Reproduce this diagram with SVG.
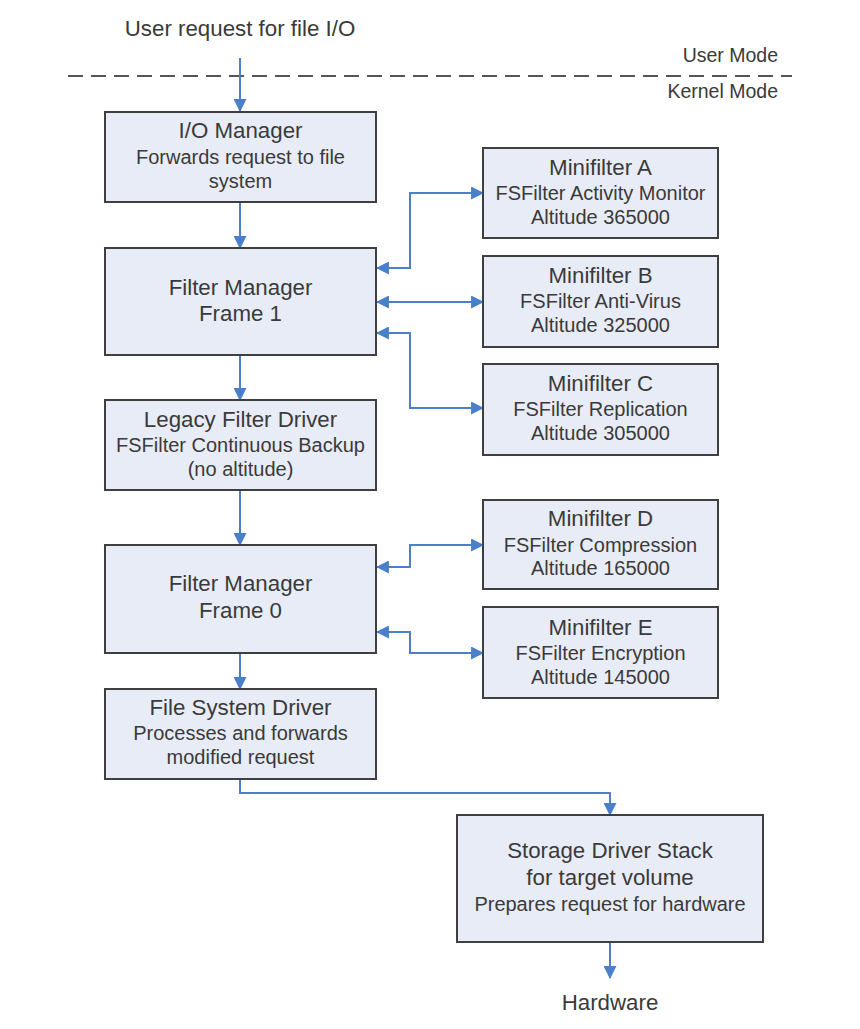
<svg xmlns="http://www.w3.org/2000/svg" width="860" height="1029" viewBox="0 0 860 1029">
<style>
.box{fill:#e8ecf6;stroke:#3f3f3f;stroke-width:2}
text{font-family:"Liberation Sans",Arial,sans-serif;fill:#3a3a3a;text-anchor:middle}
.t{font-size:22.3px}
.s{font-size:20px}
.r{text-anchor:end;font-size:19.5px}
.c{fill:none;stroke:#4a7fc9;stroke-width:2}
</style>
<defs>
<marker id="ah" viewBox="0 0 12 12" refX="11" refY="6" markerWidth="13" markerHeight="13" markerUnits="userSpaceOnUse" orient="auto-start-reverse">
<path d="M0,0 L12,6 L0,12 z" fill="#4a7fc9"/>
</marker>
</defs>
<rect width="860" height="1029" fill="#ffffff"/>
<text x="240" y="36" class="t">User request for file I/O</text>
<line x1="68" y1="76" x2="792" y2="76" stroke="#555" stroke-width="2" stroke-dasharray="15,8"/>
<text x="778" y="62" class="r">User Mode</text>
<text x="778" y="98" class="r">Kernel Mode</text>

<g id="connectors">
<path class="c" d="M240,58 V111" marker-end="url(#ah)"/>
<path class="c" d="M240,202 V248" marker-end="url(#ah)"/>
<path class="c" d="M240,355 V400" marker-end="url(#ah)"/>
<path class="c" d="M240,490 V545" marker-end="url(#ah)"/>
<path class="c" d="M240,653 V689" marker-end="url(#ah)"/>
<path class="c" d="M240,779 V793 H610 V815" marker-end="url(#ah)"/>
<path class="c" d="M610,942 V978" marker-end="url(#ah)"/>
<path class="c" d="M377,268 H410 V193 H483" marker-start="url(#ah)" marker-end="url(#ah)"/>
<path class="c" d="M377,302 H483" marker-start="url(#ah)" marker-end="url(#ah)"/>
<path class="c" d="M377,333 H410 V408 H483" marker-start="url(#ah)" marker-end="url(#ah)"/>
<path class="c" d="M377,567 H410 V545 H483" marker-start="url(#ah)" marker-end="url(#ah)"/>
<path class="c" d="M377,632 H410 V653 H483" marker-start="url(#ah)" marker-end="url(#ah)"/>
</g>

<g id="io-manager">
<rect class="box" x="105" y="112" width="271" height="90"/>
<text x="240.5" y="138" class="t">I/O Manager</text>
<text x="240.5" y="164" class="s">Forwards request to file</text>
<text x="240.5" y="188" class="s">system</text>
</g>
<g id="frame1">
<rect class="box" x="105" y="248" width="271" height="107"/>
<text x="240.5" y="295" class="t">Filter Manager</text>
<text x="240.5" y="321" class="t">Frame 1</text>
</g>
<g id="legacy">
<rect class="box" x="105" y="400" width="271" height="90"/>
<text x="240.5" y="427" class="t">Legacy Filter Driver</text>
<text x="240.5" y="452" class="s">FSFilter Continuous Backup</text>
<text x="240.5" y="476" class="s">(no altitude)</text>
</g>
<g id="frame0">
<rect class="box" x="105" y="545" width="271" height="108"/>
<text x="240.5" y="591" class="t">Filter Manager</text>
<text x="240.5" y="618" class="t">Frame 0</text>
</g>
<g id="fsd">
<rect class="box" x="105" y="689" width="271" height="90"/>
<text x="240.5" y="715" class="t">File System Driver</text>
<text x="240.5" y="740" class="s">Processes and forwards</text>
<text x="240.5" y="764" class="s">modified request</text>
</g>
<g id="minifilter-a">
<rect class="box" x="483" y="148" width="235" height="90"/>
<text x="600.5" y="175" class="t">Minifilter A</text>
<text x="600.5" y="200" class="s">FSFilter Activity Monitor</text>
<text x="600.5" y="224" class="s">Altitude 365000</text>
</g>
<g id="minifilter-b">
<rect class="box" x="483" y="256" width="235" height="91"/>
<text x="600.5" y="283" class="t">Minifilter B</text>
<text x="600.5" y="308" class="s">FSFilter Anti-Virus</text>
<text x="600.5" y="332" class="s">Altitude 325000</text>
</g>
<g id="minifilter-c">
<rect class="box" x="483" y="364" width="235" height="91"/>
<text x="600.5" y="391" class="t">Minifilter C</text>
<text x="600.5" y="416" class="s">FSFilter Replication</text>
<text x="600.5" y="440" class="s">Altitude 305000</text>
</g>
<g id="minifilter-d">
<rect class="box" x="483" y="500" width="235" height="89"/>
<text x="600.5" y="526" class="t">Minifilter D</text>
<text x="600.5" y="552" class="s">FSFilter Compression</text>
<text x="600.5" y="575" class="s">Altitude 165000</text>
</g>
<g id="minifilter-e">
<rect class="box" x="483" y="607" width="235" height="91"/>
<text x="600.5" y="635" class="t">Minifilter E</text>
<text x="600.5" y="660" class="s">FSFilter Encryption</text>
<text x="600.5" y="684" class="s">Altitude 145000</text>
</g>
<g id="storage">
<rect class="box" x="457" y="815" width="306" height="127"/>
<text x="610" y="858" class="t">Storage Driver Stack</text>
<text x="610" y="885" class="t">for target volume</text>
<text x="610" y="911" class="s">Prepares request for hardware</text>
</g>
<text x="610" y="1010" class="t">Hardware</text>
</svg>
